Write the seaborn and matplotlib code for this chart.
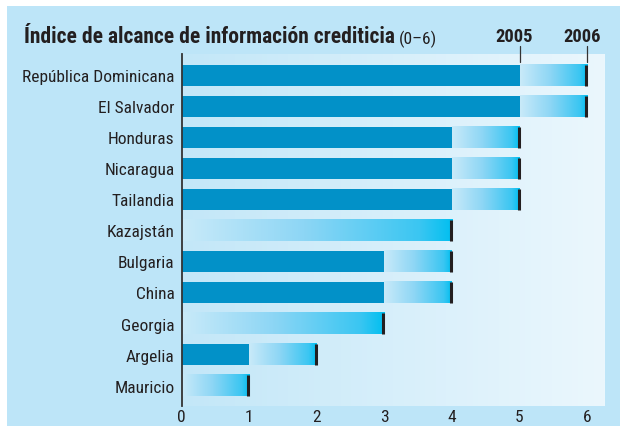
import numpy as np
import seaborn as sns
import matplotlib
matplotlib.use('Agg')
import matplotlib.pyplot as plt
from matplotlib.colors import LinearSegmentedColormap
from matplotlib.patches import Rectangle
import matplotlib.transforms as mtransforms

# Datos del gráfico
paises = ['República Dominicana', 'El Salvador', 'Honduras', 'Nicaragua', 'Tailandia',
          'Kazajstán', 'Bulgaria', 'China', 'Georgia', 'Argelia', 'Mauricio']
indice_2005 = [5, 5, 4, 4, 4, 0, 3, 3, 0, 1, 0]
indice_2006 = [6, 6, 5, 5, 5, 4, 4, 4, 3, 2, 1]
anios = ['2005', '2006']
ticks_x = [0, 1, 2, 3, 4, 5, 6]

sns.set_theme(style='white')
plt.rcParams['font.family'] = ['Roboto Condensed', 'DejaVu Sans Condensed', 'Liberation Sans']

azul_oscuro = '#0291c8'
fondo_marco = '#bde5f8'
texto = '#231f20'
cmap_barra = LinearSegmentedColormap.from_list(
    'barra', [(0, '#c9eaf9'), (0.45, '#8dd6f5'), (0.88, '#3ac6f2'), (1, '#00bff0')])
cmap_fondo = LinearSegmentedColormap.from_list('fondo', ['#c3e7f8', '#ebf7fd'])

fig = plt.figure(figsize=(6.2, 4.27), dpi=100)
fig.patch.set_facecolor('white')
fig.patches.append(Rectangle((7 / 620, 0), 1, 1 - 7 / 427, transform=fig.transFigure,
                             facecolor=fondo_marco, edgecolor='none', zorder=-10))

ax = fig.add_axes([181.5 / 620, 20 / 427, (604 - 181.5) / 620, 352 / 427])

# barras invisibles del 2006 para obtener la geometría
sns.barplot(x=indice_2006, y=paises, orient='h', width=0.68, color='white',
            saturation=1, linewidth=0, ax=ax)
barras = list(ax.patches)
for b in barras:
    b.set_visible(False)

grad = np.linspace(0, 1, 256).reshape(1, -1)
for i, b in enumerate(barras):
    y0 = b.get_y()
    h = b.get_height()
    ax.imshow(grad, cmap=cmap_barra, aspect='auto', interpolation='bicubic',
              extent=[indice_2005[i], indice_2006[i], y0 + h, y0], zorder=2)
    ax.vlines(indice_2006[i] - 0.012, y0, y0 + h, color=texto, lw=2.2, zorder=4)

# barras sólidas del 2005
sns.barplot(x=indice_2005, y=paises, orient='h', width=0.68, color=azul_oscuro,
            saturation=1, linewidth=0, ax=ax, zorder=3)

ax.set_xlim(0, 6.25)
ax.set_ylim(10.66, -0.69)

# fondo degradado del panel
ax.imshow(grad, cmap=cmap_fondo, aspect='auto', extent=[0, 1, 0, 1],
          transform=ax.transAxes, zorder=0)
ax.set_facecolor('none')

for s in ['top', 'right', 'bottom']:
    ax.spines[s].set_visible(False)
ax.spines['left'].set_color('#333333')
ax.spines['left'].set_linewidth(1.3)
ax.spines['left'].set_zorder(5)

ax.set_xticks(ticks_x)
ax.set_xticklabels([str(t) for t in ticks_x])
ax.tick_params(axis='x', length=0, pad=2, labelsize=12.5, labelcolor=texto)
ax.tick_params(axis='y', length=0, pad=5, labelsize=12.5, labelcolor=texto)
ax.set_xlabel('')
ax.set_ylabel('')

# etiquetas de año arriba
trans = mtransforms.blended_transform_factory(ax.transData, ax.transAxes)
for anio, serie in zip(anios, [indice_2005, indice_2006]):
    xv = max(serie)
    ax.plot([xv, xv], [0.977, 1.023], color='#333333', lw=0.9, transform=trans,
            clip_on=False, zorder=6)
    ax.text(xv - 0.08, 1.036, anio, transform=trans, ha='center', va='baseline',
            fontsize=13.3, fontweight='bold', color=texto)

titulo = fig.text(24 / 620, 1 - 43 / 427, 'Índice de alcance de información crediticia',
                  fontsize=15.5, fontweight='bold', color=texto, va='baseline')
ax.annotate('(0–6)', xy=(1, 0), xycoords=titulo, xytext=(3, 0), textcoords='offset points',
            fontsize=12.5, color=texto, va='bottom', ha='left')

fig.savefig('out.png', dpi=100, facecolor='white')
